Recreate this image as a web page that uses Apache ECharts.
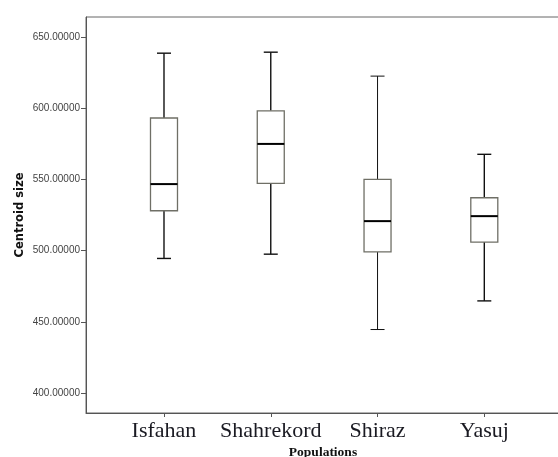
<!DOCTYPE html>
<html>
<head>
<meta charset="utf-8">
<script src="https://cdn.jsdelivr.net/npm/echarts@6/dist/echarts.min.js"></script>
<style>
html,body{margin:0;padding:0;background:#fff;}
#chart{width:558px;height:457px;}
</style>
</head>
<body>
<div id="chart"></div>
<script>
// Data
var categories = ['Isfahan', 'Shahrekord', 'Shiraz', 'Yasuj'];
var whiskerLow  = [494.5, 497.5, 444.6, 464.7];
var q1Values    = [528.0, 547.2, 499.1, 506.0];
var medianValues= [546.7, 574.9, 520.7, 524.2];
var q3Values    = [593.1, 598.1, 550.0, 537.1];
var whiskerHigh = [638.6, 639.3, 622.5, 567.6];
var yTickValues = [400, 450, 500, 550, 600, 650];

var boxData = categories.map(function (c, i) {
  return [i, whiskerLow[i], q1Values[i], medianValues[i], q3Values[i], whiskerHigh[i]];
});

var chart = echarts.init(document.getElementById('chart'));

function renderBox(params, api) {
  var x = api.value(0);
  var pMin = api.coord([x, api.value(1)]);
  var pQ1 = api.coord([x, api.value(2)]);
  var pMed = api.coord([x, api.value(3)]);
  var pQ3 = api.coord([x, api.value(4)]);
  var pMax = api.coord([x, api.value(5)]);
  var cx = pMed[0];
  var halfBox = 13.5;
  var halfCap = 7;
  var lineW = params.dataIndex === 2 ? 1 : 1.4;
  var wStyle = { stroke: '#111', lineWidth: lineW };
  return {
    type: 'group',
    children: [
      { type: 'line', shape: { x1: cx, y1: pQ3[1], x2: cx, y2: pMax[1] }, style: wStyle },
      { type: 'line', shape: { x1: cx, y1: pMin[1], x2: cx, y2: pQ1[1] }, style: wStyle },
      { type: 'line', shape: { x1: cx - halfCap, y1: pMax[1], x2: cx + halfCap, y2: pMax[1] }, style: wStyle },
      { type: 'line', shape: { x1: cx - halfCap, y1: pMin[1], x2: cx + halfCap, y2: pMin[1] }, style: wStyle },
      { type: 'rect', shape: { x: cx - halfBox, y: pQ3[1], width: halfBox * 2, height: pQ1[1] - pQ3[1] },
        style: { fill: '#fff', stroke: '#6f6f66', lineWidth: 1.3 } },
      { type: 'line', shape: { x1: cx - halfBox, y1: pMed[1], x2: cx + halfBox, y2: pMed[1] },
        style: { stroke: '#000', lineWidth: 2 } }
    ]
  };
}

chart.setOption({
  animation: false,
  backgroundColor: '#fff',
  grid: {
    left: 86, top: 17, right: -2, bottom: 44,
    outerBoundsMode: 'none',
    containLabel: false,
    show: true, borderColor: '#666', borderWidth: 1, backgroundColor: 'transparent'
  },
  xAxis: {
    type: 'value',
    min: -0.7305,
    max: 3.709,
    splitLine: { show: false },
    axisLine: { show: true, onZero: false, lineStyle: { color: '#555', width: 1 } },
    axisTick: { show: true, length: 4, lineStyle: { color: '#555' }, customValues: [0, 1, 2, 3] },
    axisLabel: {
      customValues: [0, 1, 2, 3],
      formatter: function (v) { return categories[Math.round(v)] || ''; },
      fontFamily: 'Liberation Serif', fontSize: 22, color: '#1a1a22', margin: 7
    },
    name: 'Populations',
    nameLocation: 'middle',
    nameGap: 33,
    nameMoveOverlap: false,
    nameTextStyle: { fontFamily: 'Liberation Serif', fontWeight: 'bold', fontSize: 13.5, color: '#111' }
  },
  yAxis: {
    type: 'value',
    min: 386,
    max: 664,
    splitLine: { show: false },
    axisLine: { show: true, onZero: false, lineStyle: { color: '#555', width: 1 } },
    axisTick: { show: true, length: 5, lineStyle: { color: '#555' }, customValues: yTickValues },
    axisLabel: {
      customValues: yTickValues,
      formatter: function (v) { return v.toFixed(5); },
      fontFamily: 'Liberation Sans', fontSize: 10, color: '#444', margin: 6
    },
    name: 'Centroid size',
    nameLocation: 'middle',
    nameGap: 60,
    nameMoveOverlap: false,
    nameTextStyle: { fontFamily: 'DejaVu Sans', fontWeight: 'bold', fontSize: 11.5, color: '#111' }
  },
  series: [{
    type: 'custom',
    renderItem: renderBox,
    encode: { x: 0, y: [1, 2, 3, 4, 5] },
    data: boxData
  }]
});
</script>
</body>
</html>
